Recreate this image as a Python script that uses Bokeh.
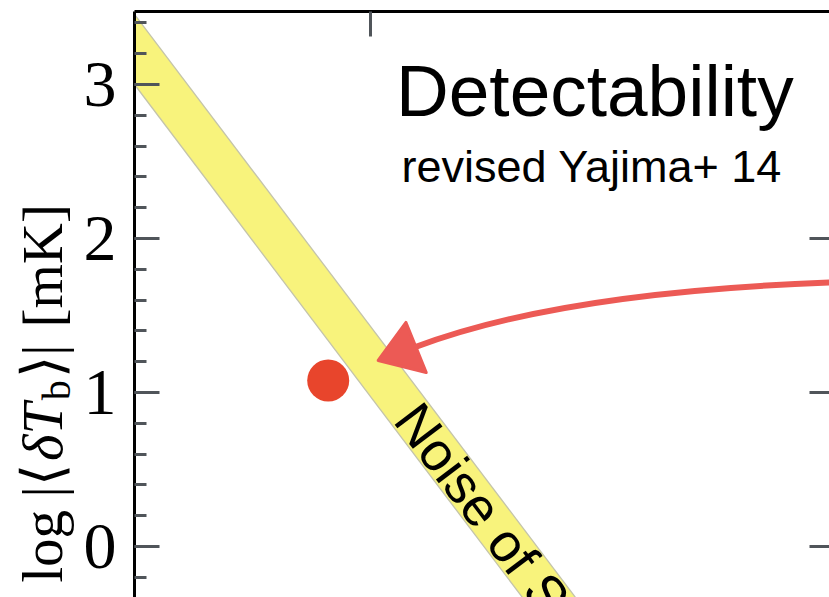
import numpy as np
from bokeh.plotting import figure
from bokeh.layouts import row
from bokeh.models import Range1d, LinearAxis, SingleIntervalTicker, FixedTicker
from bokeh.embed import file_html
from bokeh.resources import INLINE
from bokeh.core.properties import value

# ---------------- data ----------------
y_major_interval = 1
right_ticks = [-1, 0, 1, 2]
band_x = [0.5, 2.0]
band_upper = [3.455, -2.614]
band_lower = [3.000, -3.070]
point_x = [0.911]
point_y = [1.078]
arrow_start = [1.985, 1.715]     # (x, y) right end of the hand-drawn arrow
arrow_ctrl = [1.405, 1.655]      # quadratic control point
arrow_end = [1.093, 1.292]       # where the shaft meets the head
head_x = [1.017, 1.076, 1.119]
head_y = [1.208, 1.455, 1.130]
title_text = "Detectability"
subtitle_text = "revised Yajima+ 14"
band_label = "Noise of SKA"
ylabel_parts = ["log", "|⟨", "δT", "b", "⟩|", "[mK]"]

# ---------------- layout ----------------
W, H = 829, 597
L = 80                      # width of the strip holding the y-axis title
LEFT, TOP = 133, 11         # frame left / top in page pixels
X0, X1 = 0.5, 1.9746
Y0, Y1 = -0.331, 3.474
ppx = (W - LEFT) / (X1 - X0)
ppy = (H - TOP) / (Y1 - Y0)

def dx(px):
    return X0 + (px - LEFT) / ppx

def dy(py):
    return Y1 - (py - TOP) / ppy

p = figure(width=W - L, height=H, x_range=Range1d(X0, X1), y_range=Range1d(Y0, Y1),
           output_backend="svg", toolbar_location=None, x_axis_location="above",
           min_border_left=LEFT - L, min_border_right=0, min_border_top=TOP,
           min_border_bottom=0)
p.outline_line_color = None
p.grid.visible = False
p.background_fill_color = "white"
p.border_fill_color = "white"

tick_col = "#50555a"

xa = p.xaxis[0]
xa.ticker = SingleIntervalTicker(interval=1, num_minor_ticks=0)
xa.axis_line_color = "black"
xa.axis_line_width = 3
xa.major_tick_in = 25
xa.major_tick_out = 0
xa.major_tick_line_color = tick_col
xa.major_tick_line_width = 3
xa.minor_tick_line_color = None
xa.major_label_text_font_size = "0px"
xa.major_label_standoff = 0

ya = p.yaxis[0]
ya.ticker = SingleIntervalTicker(interval=y_major_interval, num_minor_ticks=5)
ya.axis_line_color = "black"
ya.axis_line_width = 3
ya.major_tick_in = 25
ya.major_tick_out = 0
ya.minor_tick_in = 12
ya.minor_tick_out = 0
ya.major_tick_line_color = tick_col
ya.minor_tick_line_color = tick_col
ya.major_tick_line_width = 3
ya.minor_tick_line_width = 3
ya.major_label_text_font = "Liberation Serif"
ya.major_label_text_font_size = "66px"
ya.major_label_text_color = "black"
ya.major_label_standoff = 18

ra = LinearAxis(ticker=FixedTicker(ticks=right_ticks, minor_ticks=[]),
                axis_line_color=None, major_tick_in=20, major_tick_out=0,
                major_tick_line_color=tick_col, major_tick_line_width=3,
                minor_tick_line_color=None, major_label_text_font_size="0px",
                major_label_standoff=0)
p.add_layout(ra, "right")

# band
p.varea(x=band_x, y1=band_lower, y2=band_upper, fill_color="#f8f37c")
p.line(band_x, band_upper, line_color="#c4c4aa", line_width=1.3)
p.line(band_x, band_lower, line_color="#c4c4aa", line_width=1.3)

# band label, rotated along band
slope_px = (band_upper[1] - band_upper[0]) / (band_x[1] - band_x[0]) * ppy / ppx
ang = np.arctan(slope_px)
tx = dx(406)
ty = (np.interp(tx, band_x, band_upper) + np.interp(tx, band_x, band_lower)) / 2
p.text(x=[tx], y=[ty], text=[band_label], angle=ang,
       text_font=value("Liberation Sans"), text_font_size=value("54px"),
       text_baseline="middle", text_align="left", text_color="black")

# red point
p.scatter(point_x, point_y, size=42, fill_color="#e8452c", line_color=None)

# hand-drawn arrow
arrow_col = "#ec5a55"
p.quadratic(x0=[arrow_start[0]], y0=[arrow_start[1]], x1=[arrow_end[0]], y1=[arrow_end[1]],
            cx=[arrow_ctrl[0]], cy=[arrow_ctrl[1]], line_color=arrow_col, line_width=6,
            line_cap="round")
p.patch(head_x, head_y, fill_color=arrow_col, line_color=arrow_col, line_width=3,
        line_join="round")

# titles
p.text(x=[dx(594)], y=[dy(90)], text=[title_text], text_font=value("Liberation Sans"),
       text_font_size=value("73px"), text_align="center", text_baseline="middle",
       text_color="black")
p.text(x=[dx(591)], y=[dy(166)], text=[subtitle_text], text_font=value("Liberation Sans"),
       text_font_size=value("45px"), text_align="center", text_baseline="middle",
       text_color="black")

# ---------------- y-axis title strip ----------------
lf = figure(width=L, height=H, x_range=Range1d(0, L), y_range=Range1d(H, 0),
            output_backend="svg", toolbar_location=None, x_axis_location=None,
            y_axis_location=None, min_border=0)
lf.outline_line_color = None
lf.grid.visible = False
lf.background_fill_color = "white"
lf.border_fill_color = "white"

fs_main, fs_sub = 57, 40
starts = [582, 495, 458, 396, 373, 322]
baselines = [61, 61, 61, 70, 61, 61]
sizes = [fs_main, fs_main, fs_main, fs_sub, fs_main, fs_main]
styles = ["normal", "normal", "italic", "normal", "normal", "normal"]
for txt, s, bl, fs, st in zip(ylabel_parts, starts, baselines, sizes, styles):
    lf.text(x=[bl - 0.34 * fs], y=[s], text=[txt], angle=np.pi / 2,
            text_font=value("Liberation Serif"), text_font_size=value(f"{fs}px"),
            text_font_style=st, text_align="left", text_baseline="middle",
            text_color="black")

layout = row(lf, p)
open("out.html", "w").write(file_html(layout, INLINE))
